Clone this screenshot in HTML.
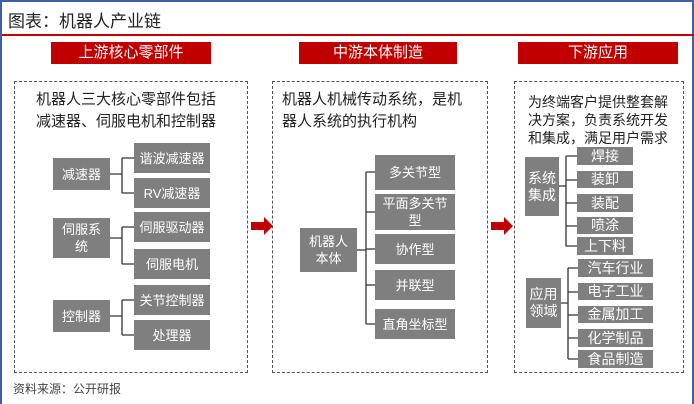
<!DOCTYPE html>
<html><head><meta charset="utf-8"><style>
*{margin:0;padding:0;box-sizing:border-box}
body{width:694px;height:404px;background:#fff;position:relative;overflow:hidden;font-family:"Liberation Sans","Noto Sans CJK SC",sans-serif;}
.a{position:absolute}
.frame{left:0;top:0;width:694px;height:404px;border:2px solid #3f5fa8;border-bottom:none}
.hd{background:#c00000;color:#fff;font-size:15px;text-align:center;line-height:22px;height:22px}
.dash{border:1.5px dashed #555}
.g{background:#7f7f7f;color:#fff;display:flex;align-items:center;justify-content:center;text-align:center;font-size:13px;line-height:17px}
.r{font-size:14px}
.t{font-size:15px;color:#222;line-height:22px}
svg{position:absolute;left:0;top:0}
</style></head><body>
<div class="a frame"></div>
<div class="a" style="left:8px;top:7px;font-size:17px;color:#222">图表：机器人产业链</div>
<div class="a" style="left:2px;top:34px;width:692px;height:2px;background:#c00000"></div>

<div class="a hd" style="left:51px;top:42px;width:160px">上游核心零部件</div>
<div class="a hd" style="left:299px;top:42px;width:158px">中游本体制造</div>
<div class="a hd" style="left:518px;top:42px;width:160px">下游应用</div>

<div class="a dash" style="left:14px;top:81px;width:234px;height:292px"></div>
<div class="a dash" style="left:272px;top:81px;width:216px;height:292px"></div>
<div class="a dash" style="left:514px;top:81px;width:170px;height:292px"></div>

<div class="a t" style="left:36px;top:89px;width:200px">机器人三大核心零部件包括<br>减速器、伺服电机和控制器</div>
<div class="a t" style="left:282px;top:89px;width:200px">机器人机械传动系统，是机<br>器人系统的执行机构</div>
<div class="a" style="left:528px;top:93px;width:160px;font-size:14px;line-height:18px;color:#222;white-space:nowrap">为终端客户提供整套解<br>决方案，负责系统开发<br>和集成，满足用户需求</div>

<svg width="694" height="404">
<g stroke="#333" stroke-width="1.3" fill="none">
<path d="M110 174H122M122 158V193M122 158H134M122 193H134"/>
<path d="M110 238H122M122 227V264M122 227H134M122 264H134"/>
<path d="M110 316H122M122 300V335M122 300H134M122 335H134"/>
<path d="M357 250H366M366 172V324M366 172H375M366 212H375M366 249H375M366 285H375M366 324H375"/>
<path d="M559 186H566M566 156V246M566 156H577M566 180H577M566 203H577M566 226H577M566 246H577"/>
<path d="M561 303H568M568 268V359M568 268H578M568 292H578M568 315H578M568 338H578M568 359H578"/>
</g>
<path d="M251 222H264V217L273 226L264 235V230H251Z" fill="#c00000"/>
<path d="M491 222H504V217L513 226L504 235V230H491Z" fill="#c00000"/>
</svg>

<div class="a g" style="left:53px;top:158px;width:57px;height:32px">减速器</div>
<div class="a g" style="left:134px;top:143px;width:76px;height:30px">谐波减速器</div>
<div class="a g" style="left:134px;top:178px;width:76px;height:30px">RV减速器</div>
<div class="a g" style="left:53px;top:218px;width:57px;height:40px">伺服系<br>统</div>
<div class="a g" style="left:134px;top:212px;width:76px;height:30px">伺服驱动器</div>
<div class="a g" style="left:134px;top:249px;width:76px;height:30px">伺服电机</div>
<div class="a g" style="left:53px;top:300px;width:57px;height:32px">控制器</div>
<div class="a g" style="left:134px;top:285px;width:76px;height:30px">关节控制器</div>
<div class="a g" style="left:134px;top:320px;width:76px;height:30px">处理器</div>

<div class="a g" style="left:300px;top:228px;width:57px;height:44px">机器人<br>本体</div>
<div class="a g" style="left:375px;top:155px;width:80px;height:35px">多关节型</div>
<div class="a g" style="left:375px;top:194px;width:80px;height:36px">平面多关节<br>型</div>
<div class="a g" style="left:375px;top:234px;width:80px;height:30px">协作型</div>
<div class="a g" style="left:375px;top:270px;width:80px;height:30px">并联型</div>
<div class="a g" style="left:375px;top:309px;width:80px;height:30px">直角坐标型</div>

<div class="a g r" style="left:525px;top:157px;width:34px;height:59px">系统<br>集成</div>
<div class="a g r" style="left:577px;top:147px;width:56px;height:18px">焊接</div>
<div class="a g r" style="left:577px;top:171px;width:56px;height:17px">装卸</div>
<div class="a g r" style="left:577px;top:194px;width:56px;height:18px">装配</div>
<div class="a g r" style="left:577px;top:217px;width:56px;height:17px">喷涂</div>
<div class="a g r" style="left:577px;top:237px;width:56px;height:18px">上下料</div>
<div class="a g r" style="left:526px;top:278px;width:35px;height:50px">应用<br>领域</div>
<div class="a g r" style="left:578px;top:259px;width:75px;height:18px">汽车行业</div>
<div class="a g r" style="left:578px;top:283px;width:75px;height:17px">电子工业</div>
<div class="a g r" style="left:578px;top:306px;width:75px;height:17px">金属加工</div>
<div class="a g r" style="left:578px;top:329px;width:75px;height:18px">化学制品</div>
<div class="a g r" style="left:578px;top:350px;width:75px;height:18px">食品制造</div>

<div class="a" style="left:13px;top:380px;font-size:12px;color:#444">资料来源：公开研报</div>
</body></html>
